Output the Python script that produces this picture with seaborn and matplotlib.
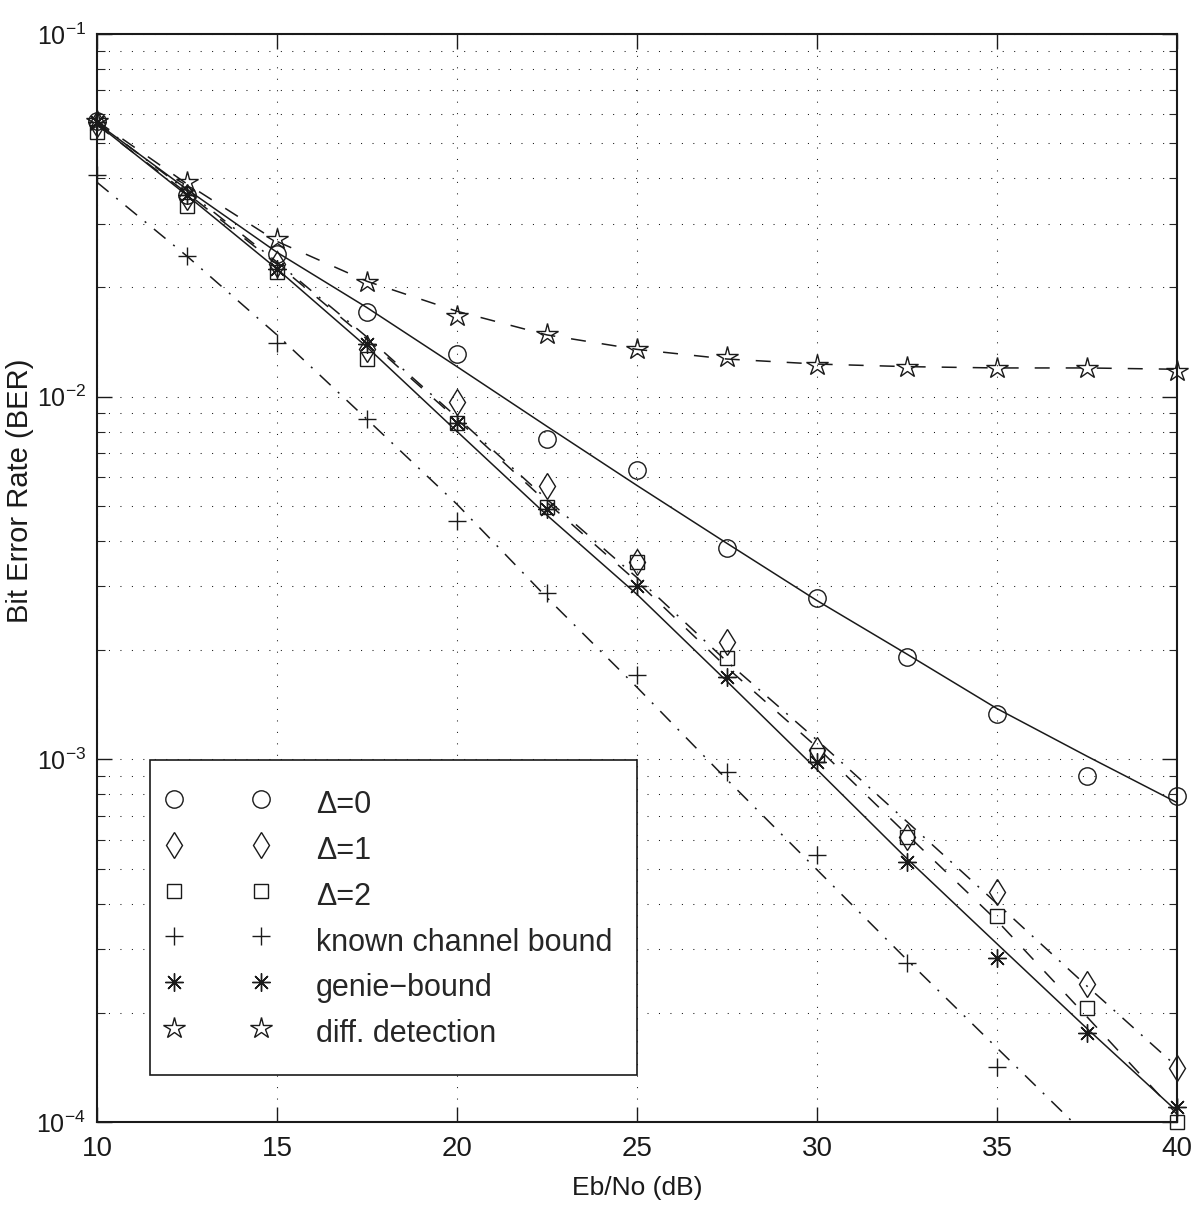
import numpy as np
import pandas as pd
import matplotlib
matplotlib.use("Agg")
import matplotlib.pyplot as plt
import seaborn as sns
from matplotlib import font_manager as fm
from matplotlib.ticker import LogLocator, NullFormatter, NullLocator, FixedLocator
from matplotlib.legend_handler import HandlerLine2D
from matplotlib.lines import Line2D

# ---------------- data ----------------
snr_db = [10, 12.5, 15, 17.5, 20, 22.5, 25, 27.5, 30, 32.5, 35, 37.5, 40]
snr_known = [10, 12.5, 15, 17.5, 20, 22.5, 25, 27.5, 30, 32.5, 35]

# simulated points (markers)
ber_delta0 = [0.0575, 0.0359, 0.0247, 0.0171, 0.0131, 0.00763, 0.00626, 0.00382,
              0.00278, 0.00191, 0.00133, 0.00090, 0.00079]
ber_delta1 = [0.0565, 0.0355, 0.0232, 0.0135, 0.00965, 0.00566, 0.00349, 0.00211,
              0.00106, 0.000612, 0.000431, 0.000240, 0.000141]
ber_delta2 = [0.0536, 0.0335, 0.0220, 0.0127, 0.00844, 0.00495, 0.00349, 0.00190,
              0.00103, 0.000612, 0.000370, 0.000206, 0.000100]
ber_known = [0.0408, 0.0244, 0.0141, 0.00866, 0.00453, 0.00288, 0.00171, 0.000925,
             0.000546, 0.000275, 0.000142]
ber_genie = [0.0572, 0.0359, 0.0225, 0.0140, 0.00844, 0.00489, 0.00300, 0.00169,
             0.000985, 0.000522, 0.000284, 0.000176, 0.000110]
ber_diff = [0.0575, 0.0390, 0.0272, 0.0207, 0.0167, 0.0149, 0.0135, 0.0129,
            0.0122, 0.0121, 0.0120, 0.0120, 0.0118]

# fitted curves (lines)
fit_delta0 = [0.0568, 0.0373, 0.0250, 0.0176, 0.0121, 0.00828, 0.00569, 0.00394,
              0.00274, 0.00195, 0.00138, 0.00102, 0.00076]
fit_delta1 = [0.0572, 0.0369, 0.0235, 0.0146, 0.00877, 0.00521, 0.00317, 0.00186,
              0.00113, 0.000673, 0.000400, 0.000237, 0.000142]
fit_delta2 = [0.0561, 0.0364, 0.0232, 0.0144, 0.00866, 0.00511, 0.00309, 0.00179,
              0.00108, 0.000620, 0.000359, 0.000195, 0.000105]
fit_known = [0.0390, 0.0244, 0.0148, 0.00866, 0.00505, 0.00279, 0.00158, 0.000879,
             0.000496, 0.000280, 0.000160, 0.0000915, 0.0000520]
fit_genie = [0.0565, 0.0359, 0.0225, 0.0137, 0.00802, 0.00471, 0.00285, 0.00164,
             0.000937, 0.000532, 0.000310, 0.000181, 0.000107]
fit_diff = [0.0575, 0.0386, 0.0268, 0.0208, 0.0172, 0.0148, 0.0135, 0.0127,
            0.0123, 0.0121, 0.0120, 0.0120, 0.0119]

legend_labels = ["Δ=0", "Δ=1", "Δ=2", "known channel bound", "genie\u2212bound", "diff. detection"]
x_ticks = [10, 15, 20, 25, 30, 35, 40]

# ---------------- style ----------------
sns.set_theme(style="white")
names = {f.name for f in fm.fontManager.ttflist}
base = "Liberation Sans" if "Liberation Sans" in names else "DejaVu Sans"
narrow = "Liberation Sans Narrow" if "Liberation Sans Narrow" in names else base
plt.rcParams["font.family"] = [base, "DejaVu Sans"]
plt.rcParams["axes.unicode_minus"] = True

tick_size = 20 if narrow != base else 18
xlab_size = 22 if narrow != base else 19
ylab_size = 25 if narrow != base else 21

fig = plt.figure(figsize=(11.94, 12.08), dpi=100)
ax = fig.add_axes([97 / 1194, 1 - 1122 / 1208, 1080 / 1194, 1088 / 1208])
ax.set_yscale("log")

lw = 1.1
solid = "-"
dashed = (0, (9.8, 10.5))
dashdot = (0, (9.8, 6.5, 1.3, 6.5))

fits = [(fit_delta0, solid), (fit_delta1, dashdot), (fit_delta2, dashed),
        (fit_known, dashdot), (fit_genie, solid), (fit_diff, dashed)]
for yv, ls in fits:
    sns.lineplot(x=snr_db, y=yv, ax=ax, color="k", linewidth=lw, linestyle=ls,
                 legend=False, errorbar=None)

series = [
    (snr_db, ber_delta0, "o", 12.5),
    (snr_db, ber_delta1, "d", 13),
    (snr_db, ber_delta2, "s", 10.5),
    (snr_known, ber_known, "+", 13),
    (snr_db, ber_genie, (8, 2, 0), 13),
    (snr_db, ber_diff, "*", 16),
]
handles = []
for (xs, yv, mk, ms), lab in zip(series, legend_labels):
    sns.lineplot(x=xs, y=yv, ax=ax, color="k", marker=mk, markersize=ms,
                 markerfacecolor="none", markeredgecolor="k", markeredgewidth=1.0,
                 linestyle="none", legend=False, errorbar=None, clip_on=False)
    line = ax.lines[-1]
    line.set_label(lab)
    line.set_zorder(3)
    handles.append(line)

ax.set_xlim(10, 40)
ax.set_ylim(1e-4, 1e-1)
ax.xaxis.set_major_locator(FixedLocator(x_ticks))
ax.xaxis.set_minor_locator(NullLocator())
ax.set_xticklabels([str(t) for t in x_ticks])
ax.yaxis.set_major_locator(LogLocator(base=10, numticks=10))
ax.yaxis.set_minor_locator(LogLocator(base=10, subs=np.arange(2, 10), numticks=20))
ax.yaxis.set_minor_formatter(NullFormatter())

grid_ls = (0, (1, 10))
ax.grid(True, which="major", axis="both", color="k", linestyle=grid_ls, linewidth=0.75)
ax.grid(True, which="minor", axis="y", color="k", linestyle=grid_ls, linewidth=0.75)
ax.set_axisbelow(True)

ax.tick_params(which="major", direction="in", length=10.5, width=1.0, top=True, right=True,
               bottom=True, left=True, labelsize=tick_size, colors="k",
               labelfontfamily=narrow)
ax.tick_params(axis="x", which="major", labelsize=tick_size + 2, pad=10)
ax.tick_params(axis="y", which="major", pad=8)
ax.tick_params(which="minor", direction="in", length=6, width=0.8, left=True, right=True)
for sp in ax.spines.values():
    sp.set_color("k")
    sp.set_linewidth(1.5)
    sp.set_visible(True)

ax.set_xlabel("Eb/No (dB)", fontsize=xlab_size, family=narrow, color="k")
ax.set_ylabel("Bit Error Rate (BER)", fontsize=ylab_size, family=narrow, color="k")
ax.xaxis.set_label_coords(0.5, -0.05)
ax.yaxis.set_label_coords(-0.058, 0.58)

leg = ax.legend(handles=handles, labels=legend_labels, loc="lower left",
                bbox_to_anchor=((150 - 97) / 1080, (1122 - 1075) / 1088),
                borderaxespad=0, fontsize=22, numpoints=2, handlelength=2.84,
                handleheight=1.47, labelspacing=0.3, handletextpad=1.8, borderpad=0.8,
                frameon=True, fancybox=False, edgecolor="k", framealpha=1,
                facecolor="white",
                handler_map={Line2D: HandlerLine2D(marker_pad=0)})
leg.get_frame().set_linewidth(1.2)
leg.set_zorder(5)

fig.savefig("out.png", dpi=100, facecolor="white")
